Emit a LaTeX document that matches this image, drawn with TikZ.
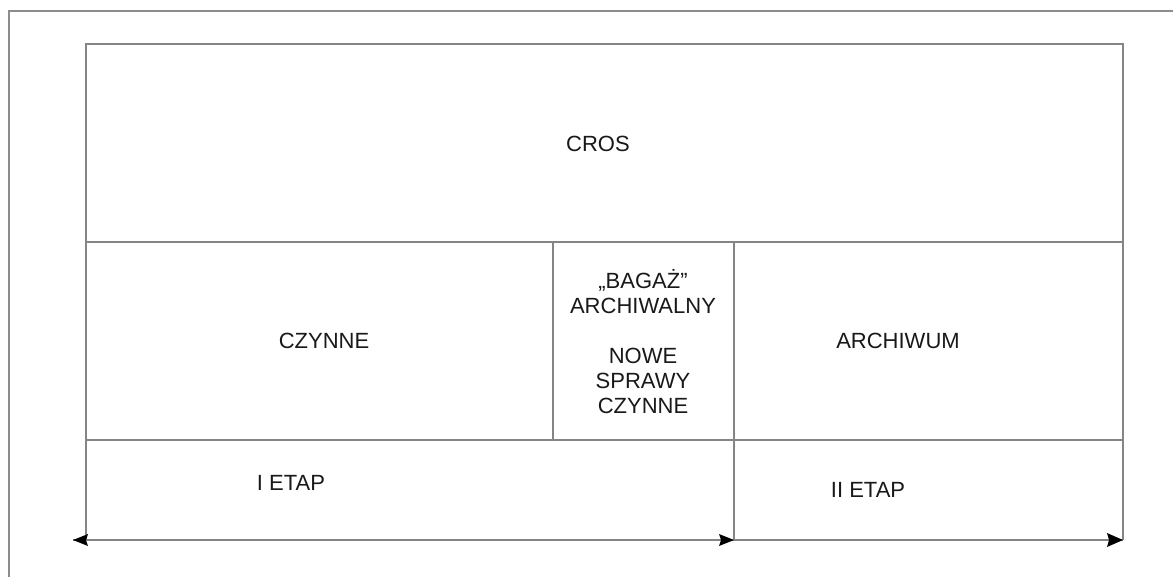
\documentclass[tikz,border=0pt]{standalone}
\usepackage{fontspec}
\setmainfont{Liberation Sans}
\usetikzlibrary{arrows.meta}
\begin{document}
\begin{tikzpicture}[x=1pt,y=-1pt,
  ln/.style={draw=black!48, line width=1.6pt},
  frame/.style={draw=black!45, line width=1.2pt},
  lbl/.style={font=\fontsize{22}{25}\selectfont, text=black!90, align=center, inner sep=0pt},
  head/.style={fill=black, draw=none}]
\useasboundingbox[fill=white] (0,0) rectangle (1173,576);
\begin{scope}
\clip (0,0) rectangle (1173,576);
\draw[frame] (9,11) rectangle (1190,600);
\end{scope}
% coordinates
\coordinate (tl) at (86,44);
\coordinate (tr) at (1123,44);
\coordinate (ml) at (86,242);
\coordinate (mr) at (1123,242);
\coordinate (bl) at (86,440);
\coordinate (br) at (1123,440);
\coordinate (al) at (86,540);
\coordinate (ar) at (1123,540);
\coordinate (m1t) at (553,242);
\coordinate (m1b) at (553,440);
\coordinate (m2t) at (734,242);
\coordinate (m2b) at (734,540);
\coordinate (atl) at (73,540);
% frame lines
\draw[ln] (al) -- (tl) -- (tr) -- (ar);
\draw[ln] (ml) -- (mr);
\draw[ln] (bl) -- (br);
\draw[ln] (m1t) -- (m1b);
\draw[ln] (m2t) -- (m2b);
% arrows
\draw[ln] (atl) -- (m2b);
\draw[ln] (m2b) -- (ar);
\fill[head] (atl) -- ++(15,-6) -- ++(-2,6) -- ++(2,6) -- cycle;
\fill[head] (m2b) -- ++(-15,-6) -- ++(2,6) -- ++(-2,6) -- cycle;
\fill[head] (ar) -- ++(-16,-7) -- ++(2,7) -- ++(-2,7) -- cycle;
% labels
\node[lbl] (cros) at (598,144) {CROS};
\node[lbl] (czynne) at (324,341) {CZYNNE};
\node[lbl] (mid) at (643,342) {„BAGAŻ"\\ARCHIWALNY\\[25pt]NOWE\\SPRAWY\\CZYNNE};
\node[lbl] (archiwum) at (898,341) {ARCHIWUM};
\node[lbl] (etap1) at (291,483) {I ETAP};
\node[lbl] (etap2) at (868,490) {II ETAP};
\end{tikzpicture}
\end{document}
